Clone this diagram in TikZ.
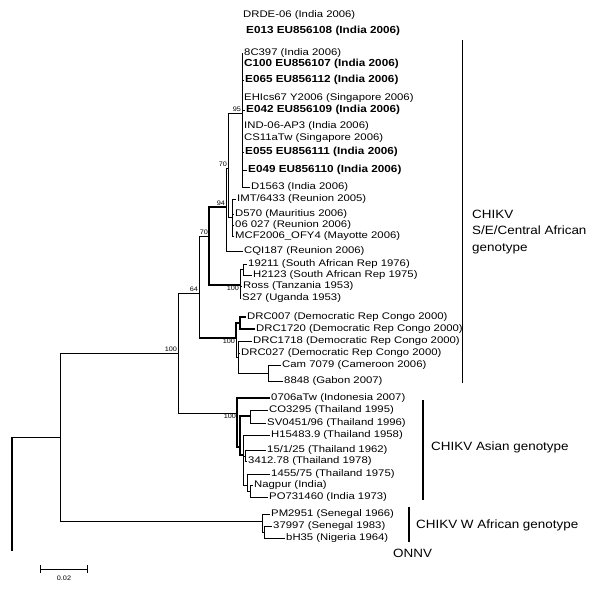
\documentclass[tikz,border=0pt]{standalone}
\usepackage{fontspec}
\setmainfont[FakeStretch=1.12]{Liberation Sans}
\newfontfamily\leaffont[FakeStretch=1.18, BoldFeatures={FakeStretch=1.15}]{Liberation Sans}
\newcommand{\bl}[1]{{\fontsize{10.2}{10}\selectfont\bfseries #1}}
\begin{document}
\begin{tikzpicture}[x=1pt, y=-1pt, every node/.style={inner sep=1pt},
	leaf/.style={anchor=west, font=\leaffont\fontsize{9.6}{10}\selectfont},
	bs/.style={font=\fontsize{6.5}{7}\selectfont, inner sep=0.8pt},
	grp/.style={anchor=west, align=left, font=\fontsize{12}{16.5}\selectfont},
	thn/.style={line width=0.8pt}, thk/.style={line width=1.8pt}]
	\useasboundingbox (0,0) rectangle (600,590);
	\foreach \n/\x/\y/\t in {
		t1/242/15/{DRDE-06 (India 2006)}, t2/245/31/{\bl{E013 EU856108 (India 2006)}},
		t3/243/53/{8C397 (India 2006)}, t4/243/64/{\bl{C100 EU856107 (India 2006)}},
		t5/244/80/{\bl{E065 EU856112 (India 2006)}}, t6/243/98/{EHIcs67 Y2006 (Singapore 2006)},
		t7/245/110/{\bl{E042 EU856109 (India 2006)}}, t8/243/126/{IND-06-AP3 (India 2006)},
		t9/243/138/{CS11aTw (Singapore 2006)}, t10/244/152/{\bl{E055 EU856111 (India 2006)}},
		t11/247/170/{\bl{E049 EU856110 (India 2006)}}, t12/250/187/{D1563 (India 2006)},
		t13/236/199/{IMT/6433 (Reunion 2005)}, t14/234/214/{D570 (Mauritius 2006)},
		t15/234/225/{06 027 (Reunion 2006)}, t16/234/236/{MCF2006\_OFY4 (Mayotte 2006)},
		t17/243/251/{CQI187 (Reunion 2006)}, t18/247/264/{19211 (South African Rep 1976)},
		t19/252/275/{H2123 (South African Rep 1975)}, t20/242/286/{Ross (Tanzania 1953)},
		t21/241/298/{S27 (Uganda 1953)}, t22/246/317/{DRC007 (Democratic Rep Congo 2000)},
		t23/255/329/{DRC1720 (Democratic Rep Congo 2000)}, t24/252/341/{DRC1718 (Democratic Rep Congo 2000)},
		t25/240/353/{DRC027 (Democratic Rep Congo 2000)}, t26/281/365/{Cam 7079 (Cameroon 2006)},
		t27/283/381/{8848 (Gabon 2007)}, t28/270/398/{0706aTw (Indonesia 2007)},
		t29/268/410/{CO3295 (Thailand 1995)}, t30/266/423/{SV0451/96 (Thailand 1996)},
		t31/270/435/{H15483.9 (Thailand 1958)}, t32/266/450/{15/1/25 (Thailand 1962)},
		t33/247/461/{3412.78 (Thailand 1978)}, t34/270/474/{1455/75 (Thailand 1975)},
		t35/253/485/{Nagpur (India)}, t36/268/497/{PO731460 (India 1973)},
		t37/270/514/{PM2951 (Senegal 1966)}, t38/272/526/{37997 (Senegal 1983)},
		t39/285/538/{bH35 (Nigeria 1964)}}
		\node[leaf] (\n) at (\x,\y) {\t};
	\foreach \n/\x/\y in {r/12/437, rb/12/551, a/60/437, b/178/353, c64/199/293, c70b/209/236,
		c94/226/207, c70a/228/168, c95/242/113, cimt/232/217, csa/240/285, csa2/243/269,
		cdrc/236/338, cdrc1/240/323, cdrc2/238/357, ccam/268/373, cas/237/413, cas2/240/447,
		cco/250/416, cc/243/455, cd/245/456, ce/247/485, cf/250/491, cw/262/521, cw2/264/532}
		\coordinate (\n) at (\x,\y);
	\draw[thk] (r) -- (rb);
	\foreach \p/\c/\s in {r/a/thn, a/b/thn, a/cw/thn, b/c64/thn, b/cas/thn, c64/c70b/thn, c64/cdrc/thn,
		c70b/c94/thk, c70b/csa/thk, c94/c70a/thn, c94/t17/thn, c70a/c95/thn, c70a/cimt/thn,
		c95/t3/thn, c95/t4/thn, c95/t5/thn, c95/t6/thn, c95/t7/thn, c95/t8/thn, c95/t9/thn,
		c95/t10/thn, c95/t11/thn, c95/t12/thn, cimt/t13/thn, cimt/t14/thn, cimt/t15/thn, cimt/t16/thn,
		csa/csa2/thn, csa/t20/thn, csa/t21/thn, csa2/t18/thn, csa2/t19/thn,
		cdrc/cdrc1/thk, cdrc/cdrc2/thn, cdrc1/t22/thk, cdrc1/t23/thk, cdrc2/t24/thn, cdrc2/t25/thn,
		cdrc2/ccam/thn, ccam/t26/thn, ccam/t27/thn, cas/t28/thk, cas/cas2/thk, cas2/cco/thk, cas2/cc/thk,
		cco/t29/thn, cco/t30/thn, cc/t31/thn, cc/cd/thn, cc/ce/thn, cd/t32/thn, cd/t33/thn,
		ce/t34/thn, ce/cf/thn, cf/t35/thn, cf/t36/thn, cw/t37/thn, cw/cw2/thn, cw2/t38/thn, cw2/t39/thn}
		\draw[\s] (\p) |- (\c);
	\draw[thk] (c64 |- cdrc) -- (cdrc);
	\node[bs, anchor=south east] (bs95) at (c95) {95};
	\node[bs, anchor=south east] (bs70a) at (c70a) {70};
	\node[bs, anchor=south east] (bs94) at (c94) {94};
	\node[bs, anchor=south east] (bs70b) at (c70b) {70};
	\node[bs, anchor=south east] (bs64) at (c64) {64};
	\node[bs, anchor=south east] (bsb) at (b) {100};
	\node[bs, anchor=north east] (bssa) at (csa) {100};
	\node[bs, anchor=north east] (bsdrc) at (cdrc) {100};
	\node[bs, anchor=north east] (bsas) at (cas) {100};
	\coordinate (s1) at (40,569);
	\coordinate (s2) at (88,569);
	\draw[thn, |-|] (s1) -- (s2);
	\node[bs] (sbl) at (64,578) {0.02};
	\coordinate (g1t) at (462,40);
	\coordinate (g1b) at (462,383);
	\coordinate (g2t) at (423,400);
	\coordinate (g2b) at (423,500);
	\coordinate (g3t) at (409,507);
	\coordinate (g3b) at (409,542);
	\draw[thn] (g1t) -- (g1b);
	\draw[thk] (g2t) -- (g2b);
	\draw[thk] (g3t) -- (g3b);
	\node[grp] (g1) at (471,232) {CHIKV\\S/E/Central African\\genotype};
	\node[grp] (g2) at (430,447) {CHIKV Asian genotype};
	\node[grp] (g3) at (415,525) {CHIKV W African genotype};
	\node[grp] (onnv) at (392,553) {ONNV};
\end{tikzpicture}
\end{document}
